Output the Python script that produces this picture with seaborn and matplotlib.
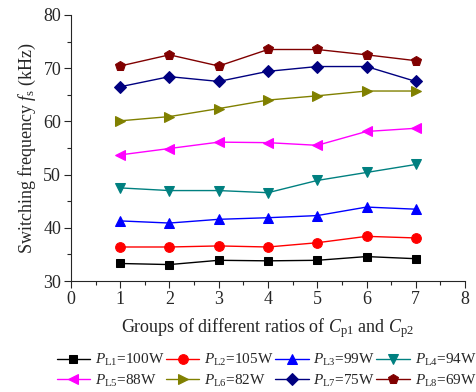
import matplotlib
matplotlib.use("Agg")
import matplotlib.pyplot as plt
import seaborn as sns
import pandas as pd
from matplotlib.ticker import MultipleLocator

groups = [1, 2, 3, 4, 5, 6, 7]
PL1 = [33.3, 33.1, 33.9, 33.8, 33.9, 34.6, 34.2]
PL2 = [36.4, 36.4, 36.6, 36.4, 37.2, 38.4, 38.1]
PL3 = [41.3, 40.9, 41.6, 41.9, 42.3, 43.9, 43.5]
PL4 = [47.5, 47.0, 47.0, 46.6, 48.9, 50.4, 51.9]
PL5 = [53.7, 54.9, 56.1, 56.0, 55.5, 58.1, 58.7]
PL6 = [60.1, 60.9, 62.4, 64.0, 64.8, 65.7, 65.7]
PL7 = [66.5, 68.4, 67.5, 69.4, 70.3, 70.3, 67.5]
PL8 = [70.4, 72.5, 70.4, 73.5, 73.5, 72.5, 71.4]
labels = [r"$P_{\mathrm{L1}}$=100W", r"$P_{\mathrm{L2}}$=105W", r"$P_{\mathrm{L3}}$=99W",
          r"$P_{\mathrm{L4}}$=94W", r"$P_{\mathrm{L5}}$=88W", r"$P_{\mathrm{L6}}$=82W",
          r"$P_{\mathrm{L7}}$=75W", r"$P_{\mathrm{L8}}$=69W"]
series = [PL1, PL2, PL3, PL4, PL5, PL6, PL7, PL8]
colors = ["#000000", "#ff0000", "#0000ff", "#008080", "#ff00ff", "#808000", "#000080", "#800000"]
markers = ["s", "o", "^", "v", "<", ">", "D", "p"]
msizes = [6, 7, 7, 7, 7, 7, 6, 7]

sns.set_style("ticks")
plt.rcParams["font.family"] = ["Liberation Serif", "DejaVu Serif"]
plt.rcParams["mathtext.fontset"] = "custom"
plt.rcParams["mathtext.rm"] = "Liberation Serif"
plt.rcParams["mathtext.it"] = "Liberation Serif:italic"

fig = plt.figure(figsize=(4.76, 3.92), dpi=100)
ax = fig.add_axes([0.149, 0.283, 0.828, 0.679])

for vals, lab, c, m, ms in zip(series, labels, colors, markers, msizes):
    df = pd.DataFrame({"x": groups, "y": vals})
    sns.lineplot(data=df, x="x", y="y", ax=ax, color=c, marker=m, markersize=ms,
                 markeredgecolor=c, linewidth=1.0, label=lab)

ax.set_xlim(0, 8)
ax.set_ylim(30, 80)
ax.xaxis.set_major_locator(MultipleLocator(1))
ax.xaxis.set_minor_locator(MultipleLocator(0.5))
ax.yaxis.set_major_locator(MultipleLocator(10))
ax.yaxis.set_minor_locator(MultipleLocator(5))
ax.tick_params(which="major", direction="out", length=5, width=0.8, labelsize=13, pad=2)
ax.tick_params(which="minor", direction="out", length=3, width=0.8)
for s in ["top", "right"]:
    ax.spines[s].set_visible(False)
ax.set_xlabel(r"Groups of different ratios of $C_{\mathrm{p1}}$ and $C_{\mathrm{p2}}$", fontsize=13, labelpad=6)
ax.set_ylabel(r"Switching frequency $f_{\mathrm{s}}$ (kHz)", fontsize=13, labelpad=4)

handles, labs = ax.get_legend_handles_labels()
order = [0, 4, 1, 5, 2, 6, 3, 7]
ax.legend([handles[i] for i in order], [labs[i] for i in order],
          loc="upper center", bbox_to_anchor=(0.56, 0.102), bbox_transform=fig.transFigure,
          ncol=4, frameon=False,
          fontsize=11, handlelength=2.2, handletextpad=0.3, columnspacing=0.1,
          labelspacing=0.3, borderaxespad=0, borderpad=0)

fig.savefig("out.png", dpi=100)
